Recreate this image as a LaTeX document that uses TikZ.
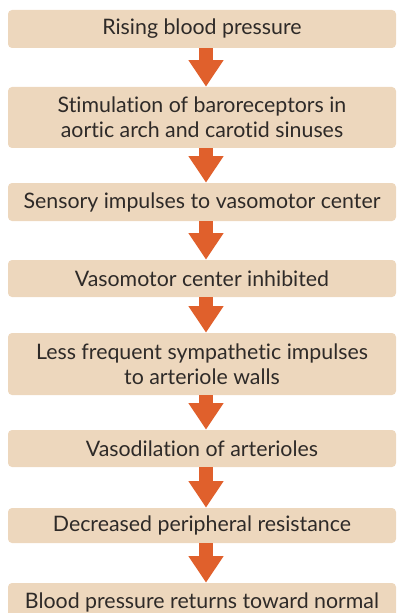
\documentclass[tikz,border=0pt]{standalone}
\usepackage{fontspec}
\setmainfont[Ligatures=NoCommon]{Lato}
\usetikzlibrary{arrows.meta}
\definecolor{boxtan}{HTML}{EDD7BD}
\definecolor{arroworange}{HTML}{E0602C}
\definecolor{textgray}{HTML}{2E2A28}
\tikzset{
  stage/.style={fill=boxtan, rounded corners=3pt, minimum width=291pt, inner sep=0pt,
    align=center, text=textgray, font=\fontsize{16}{19}\selectfont},
  flow/.style={draw=arroworange, line width=10.5pt,
    -{Triangle[width=25pt,length=20pt]}}
}

\begin{document}
\begin{tikzpicture}[x=0.75pt,y=-0.75pt]
  \path[use as bounding box, clip] (0,0) rectangle (400,613);
  % Stages of the reflex, top to bottom
  \node[stage, minimum height=28.5pt] (b1) at (202,29) {Rising blood pressure};
  \node[stage, minimum height=45.75pt] (b2) at (202,117.5) {Stimulation of baroreceptors in\\aortic arch and carotid sinuses};
  \node[stage, minimum height=28.5pt] (b3) at (202,202) {Sensory impulses to vasomotor center};
  \node[stage, minimum height=27.75pt] (b4) at (202,278.5) {Vasomotor center inhibited};
  \node[stage, minimum height=46.5pt] (b5) at (202,364) {Less frequent sympathetic impulses\\to arteriole walls};
  \node[stage, minimum height=27.75pt] (b6) at (202,448.5) {Vasodilation of arterioles};
  \node[stage, minimum height=26.25pt] (b7) at (202,525.5) {Decreased peripheral resistance};
  \node[stage, minimum height=28.5pt] (b8) at (202,602) {Blood pressure returns toward normal};
  % Arrows between stages
  \foreach \i in {1,...,7} {
    \pgfmathtruncatemacro{\next}{\i+1}
    \draw[flow] ([xshift=3pt]b\i.south) -- ([xshift=3pt]b\next.north); }
\end{tikzpicture}
\end{document}
